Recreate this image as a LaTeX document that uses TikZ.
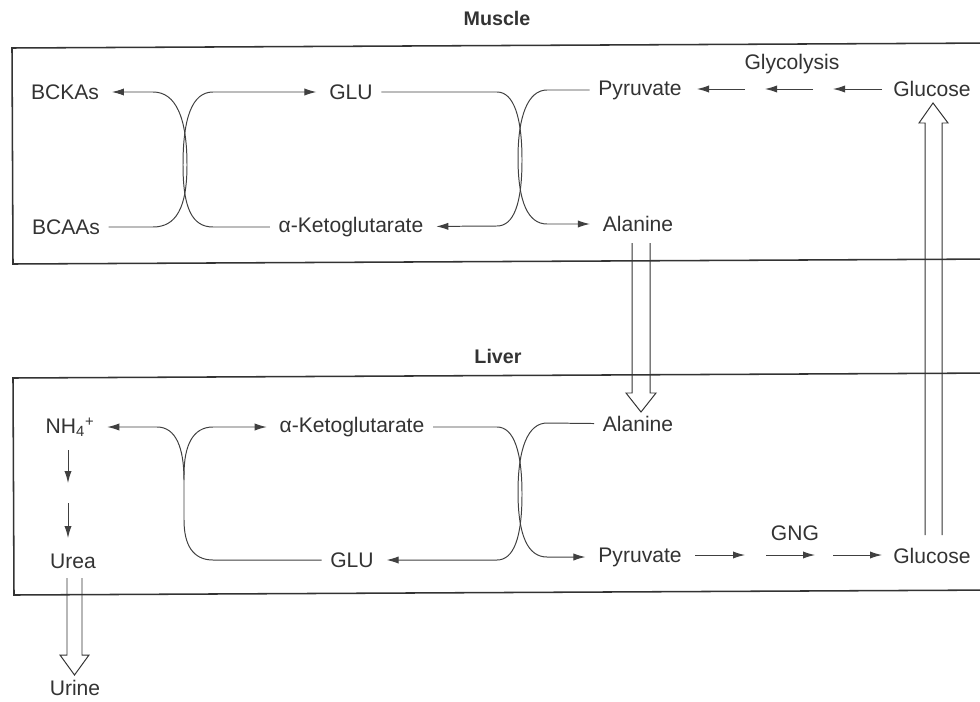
\documentclass[tikz,border=0pt]{standalone}
\usepackage{fontspec}
\setmainfont{Liberation Sans}
\usetikzlibrary{arrows.meta}

\begin{document}
\begin{tikzpicture}[x=0.25mm, y=-0.25mm,
  every node/.style={text=black!80, font=\fontsize{15}{17}\selectfont, inner sep=2pt},
  title/.style={font=\fontsize{14}{16}\selectfont\bfseries},
  box/.style={draw=black!80, line width=1.1pt},
  line/.style={draw=black!75, line width=0.7pt},
  arr/.style={line, -{Latex[length=3mm,width=1.8mm]}, shorten >=7pt, shorten <=4pt},
  seg/.style={line, -{Latex[length=3mm,width=1.8mm]}},
  hollow/.style={draw=black!80, line width=0.7pt, line join=miter}]
\useasboundingbox (0,0) rectangle (980,701);

% the two compartments
\draw[box] (1000,43) -- (12,48) -- (13,264) -- (1000,259);
\draw[box] (1000,373) -- (13,378) -- (14,595) -- (1000,590);
\node[title] (muscle) at (497,18) {Muscle};
\node[title] (liver) at (498,356) {Liver};

% muscle
\node (bcka) at (65,92) {BCKAs};
\node (bcaa) at (66,227) {BCAAs};
\node (gluM) at (351,92) {GLU};
\node (akgM) at (351,227) {α-Ketoglutarate};
\node (pyrM) at (640,90) {Pyruvate};
\node (alaM) at (638,224) {Alanine};
\node (glcM) at (932,89) {Glucose};
\node (glyc) at (792,64) {Glycolysis};

\draw[arr] (bcaa) -- (153,227) .. controls (176,227) and (187,208) .. (187,165)
  .. controls (187,118) and (176,92) .. (153,92) -- (bcka);
\draw[arr] (akgM) -- (213,227) .. controls (192,227) and (183,208) .. (183,165)
  .. controls (183,118) and (192,92) .. (213,92) -- (gluM);
\draw[arr] (gluM) -- (497,92) .. controls (514,92) and (522,118) .. (522,160)
  .. controls (522,203) and (514,226) .. (497,226) -- (akgM);
\draw[arr] (pyrM) -- (547,90) .. controls (528,90) and (518,116) .. (518,158)
  .. controls (518,202) and (528,224) .. (547,224) -- (alaM);

\coordinate (gy1) at (882,89);
\coordinate (gy2) at (833,89);
\coordinate (gy3) at (813,89);
\coordinate (gy4) at (765,89);
\coordinate (gy5) at (745,89);
\coordinate (gy6) at (697,89);
\draw[seg] (gy1) -- (gy2);
\draw[seg] (gy3) -- (gy4);
\draw[seg] (gy5) -- (gy6);

% liver
\node (nh4) at (70,427) {NH\textsubscript{4}\textsuperscript{+}};
\node (urea) at (73,561) {Urea};
\node (akgL) at (352,427) {α-Ketoglutarate};
\node (gluL) at (352,560) {GLU};
\node (alaL) at (638,424) {Alanine};
\node (pyrL) at (640,557) {Pyruvate};
\node (glcL) at (932,556) {Glucose};
\node (gng) at (795,533) {GNG};
\node (urine) at (75,688) {Urine};

\draw[arr] (gluL) -- (213,560) .. controls (193,560) and (184,545) .. (184,520)
  -- (184,475) .. controls (184,445) and (193,427) .. (213,427) -- (akgL);
\coordinate (jn) at (184,480);
\draw[arr, shorten <=0pt] (jn) .. controls (184,448) and (176,427) .. (157,427) -- (nh4);
\draw[arr] (akgL) -- (497,427) .. controls (514,427) and (522,452) .. (522,494)
  .. controls (522,537) and (514,560) .. (497,560) -- (gluL);
\draw[arr] (alaL) -- (547,423) .. controls (528,423) and (518,448) .. (518,492)
  .. controls (518,536) and (528,557) .. (547,557) -- (pyrL);

\coordinate (gn1) at (695,555);
\coordinate (gn2) at (745,555);
\coordinate (gn3) at (766,555);
\coordinate (gn4) at (815,555);
\coordinate (gn5) at (833,555);
\coordinate (gn6) at (882,555);
\draw[seg] (gn1) -- (gn2);
\draw[seg] (gn3) -- (gn4);
\draw[seg] (gn5) -- (gn6);

\coordinate (ur1) at (68,450);
\coordinate (ur2) at (68,483);
\coordinate (ur3) at (68,503);
\coordinate (ur4) at (68,538);
\draw[seg] (ur1) -- (ur2);
\draw[seg] (ur3) -- (ur4);

% transport between the organs
\draw[hollow] (alaM) ++(-6,19) -- ++(0,150) -- ++(-6,0) -- ++(15,19) -- ++(15,-19)
  -- ++(-6,0) -- ++(0,-150);
\draw[hollow] (glcL) ++(-7,-21) -- ++(0,-412) -- ++(-6,0) -- ++(14,-20) -- ++(15,20)
  -- ++(-6,0) -- ++(0,412);
\draw[hollow] (urea) ++(-6,17) -- ++(0,77) -- ++(-7,0) -- ++(14.5,20) -- ++(14.5,-20)
  -- ++(-7,0) -- ++(0,-77);
\end{tikzpicture}
\end{document}
